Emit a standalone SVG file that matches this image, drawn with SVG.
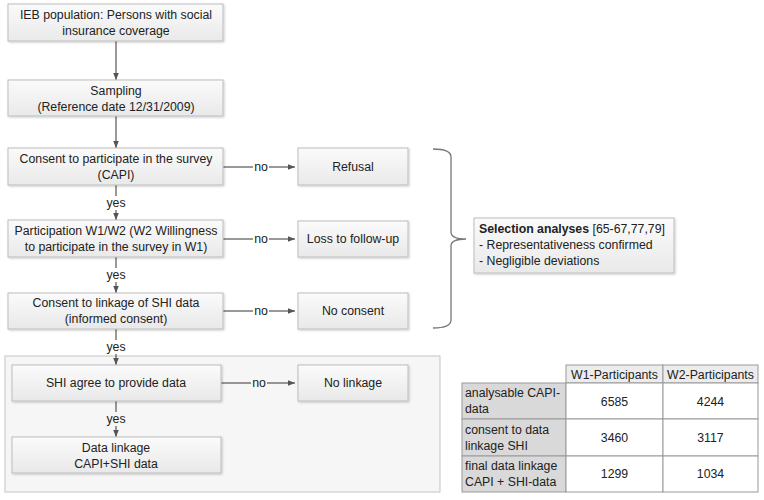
<svg xmlns="http://www.w3.org/2000/svg" width="764" height="500" viewBox="0 0 764 500">
<defs>
<linearGradient id="g" x1="0" y1="0" x2="0" y2="1">
<stop offset="0" stop-color="#fbfbfb"/>
<stop offset="1" stop-color="#e9e9e9"/>
</linearGradient>
<marker id="ah" viewBox="0 0 10 10" refX="10" refY="5" markerWidth="7" markerHeight="7" orient="auto" markerUnits="userSpaceOnUse">
<path d="M0,1 L10,5 L0,9 z" fill="#555"/>
</marker>
<filter id="sh" x="-5%" y="-10%" width="110%" height="130%">
<feDropShadow dx="1" dy="1" stdDeviation="0.8" flood-color="#000" flood-opacity="0.2"/>
</filter>
</defs>
<style>
text{font-family:"Liberation Sans",Arial,sans-serif;font-size:12.3px;fill:#222}
.c{text-anchor:middle}
.box{fill:url(#g);stroke:#bdbdbd;stroke-width:1;filter:url(#sh)}
.ln{stroke:#555;stroke-width:1.2;fill:none}
.cell{stroke:#999;stroke-width:1}
</style>
<rect width="764" height="500" fill="#fff"/>

<g id="region">
<rect x="5" y="356" width="435" height="136" fill="#f6f6f6" stroke="#c4c4c4" stroke-width="1"/>
</g>

<g id="connectors">
<line class="ln" x1="116" y1="41" x2="116" y2="80" marker-end="url(#ah)"/>
<line class="ln" x1="116" y1="116" x2="116" y2="148" marker-end="url(#ah)"/>
<line class="ln" x1="116" y1="185" x2="116" y2="196"/>
<line class="ln" x1="116" y1="210" x2="116" y2="220" marker-end="url(#ah)"/>
<text class="c" x="116" y="207">yes</text>
<line class="ln" x1="116" y1="257" x2="116" y2="268"/>
<line class="ln" x1="116" y1="282" x2="116" y2="293" marker-end="url(#ah)"/>
<text class="c" x="116" y="279">yes</text>
<line class="ln" x1="116" y1="329" x2="116" y2="340"/>
<line class="ln" x1="116" y1="354" x2="116" y2="365" marker-end="url(#ah)"/>
<text class="c" x="116" y="351">yes</text>
<line class="ln" x1="116" y1="401" x2="116" y2="412"/>
<line class="ln" x1="116" y1="426" x2="116" y2="437" marker-end="url(#ah)"/>
<text class="c" x="116" y="423">yes</text>

<line class="ln" x1="223" y1="167" x2="253" y2="167"/>
<line class="ln" x1="269" y1="167" x2="295" y2="167" marker-end="url(#ah)"/>
<text class="c" x="261" y="171">no</text>
<line class="ln" x1="223" y1="239" x2="253" y2="239"/>
<line class="ln" x1="269" y1="239" x2="295" y2="239" marker-end="url(#ah)"/>
<text class="c" x="261" y="243">no</text>
<line class="ln" x1="223" y1="311" x2="253" y2="311"/>
<line class="ln" x1="269" y1="311" x2="295" y2="311" marker-end="url(#ah)"/>
<text class="c" x="261" y="315">no</text>
<line class="ln" x1="221" y1="383" x2="251" y2="383"/>
<line class="ln" x1="267" y1="383" x2="295" y2="383" marker-end="url(#ah)"/>
<text class="c" x="259" y="387">no</text>

<path d="M433,149 Q451,149 451,157 L451,232 Q451,239 466,239 Q451,239 451,246 L451,320 Q451,328 433,328" fill="none" stroke="#777" stroke-width="1.3"/>
</g>

<g id="n1"><rect class="box" x="8" y="4" width="215" height="37"/>
<text class="c" x="116" y="19">IEB population: Persons with social</text>
<text class="c" x="116" y="35">insurance coverage</text></g>

<g id="n2"><rect class="box" x="8" y="80" width="215" height="36"/>
<text class="c" x="116" y="95">Sampling</text>
<text class="c" x="116" y="111">(Reference date 12/31/2009)</text></g>

<g id="n3"><rect class="box" x="8" y="148" width="215" height="37"/>
<text class="c" x="116" y="163">Consent to participate in the survey</text>
<text class="c" x="116" y="179">(CAPI)</text></g>

<g id="n4"><rect class="box" x="8" y="220" width="215" height="37"/>
<text class="c" x="116" y="235">Participation W1/W2 (W2 Willingness</text>
<text class="c" x="116" y="251">to participate in the survey in W1)</text></g>

<g id="n5"><rect class="box" x="8" y="293" width="215" height="36"/>
<text class="c" x="116" y="307">Consent to linkage of SHI data</text>
<text class="c" x="116" y="323">(informed consent)</text></g>

<g id="r1"><rect class="box" x="298" y="148" width="110" height="37"/>
<text class="c" x="353" y="171">Refusal</text></g>

<g id="r2"><rect class="box" x="298" y="221" width="110" height="36"/>
<text class="c" x="353" y="243">Loss to follow-up</text></g>

<g id="r3"><rect class="box" x="298" y="293" width="110" height="36"/>
<text class="c" x="353" y="315">No consent</text></g>

<g id="n6"><rect class="box" x="12" y="365" width="209" height="36"/>
<text class="c" x="116" y="387">SHI agree to provide data</text></g>

<g id="r4"><rect class="box" x="298" y="365" width="110" height="36"/>
<text class="c" x="353" y="387">No linkage</text></g>

<g id="n7"><rect class="box" x="12" y="437" width="209" height="36"/>
<text class="c" x="116" y="452">Data linkage</text>
<text class="c" x="116" y="468">CAPI+SHI data</text></g>

<g id="sel"><rect class="box" x="474" y="218" width="200" height="55"/>
<text x="479" y="233"><tspan font-weight="bold">Selection analyses</tspan> [65-67,77,79]</text>
<text x="479" y="249">- Representativeness confirmed</text>
<text x="479" y="265">- Negligible deviations</text></g>

<g id="table">
<rect class="cell" x="566" y="365" width="97" height="18" fill="#ececec"/>
<rect class="cell" x="663" y="365" width="95" height="18" fill="#ececec"/>
<rect class="cell" x="462" y="383" width="104" height="36" fill="#d9d9d9"/>
<rect class="cell" x="462" y="419" width="104" height="37" fill="#d9d9d9"/>
<rect class="cell" x="462" y="456" width="104" height="36" fill="#d9d9d9"/>
<rect class="cell" x="566" y="383" width="97" height="36" fill="#fff"/>
<rect class="cell" x="566" y="419" width="97" height="37" fill="#fff"/>
<rect class="cell" x="566" y="456" width="97" height="36" fill="#fff"/>
<rect class="cell" x="663" y="383" width="95" height="36" fill="#fff"/>
<rect class="cell" x="663" y="419" width="95" height="37" fill="#fff"/>
<rect class="cell" x="663" y="456" width="95" height="36" fill="#fff"/>
<text class="c" x="614.5" y="378.5">W1-Participants</text>
<text class="c" x="710.5" y="378.5">W2-Participants</text>
<text x="465" y="397">analysable CAPI-</text>
<text x="465" y="413">data</text>
<text x="465" y="434">consent to data</text>
<text x="465" y="450">linkage SHI</text>
<text x="465" y="470">final data linkage</text>
<text x="465" y="486">CAPI + SHI-data</text>
<text class="c" x="614.5" y="406">6585</text>
<text class="c" x="710.5" y="406">4244</text>
<text class="c" x="614.5" y="442">3460</text>
<text class="c" x="710.5" y="442">3117</text>
<text class="c" x="614.5" y="478">1299</text>
<text class="c" x="710.5" y="478">1034</text>
</g>
</svg>
